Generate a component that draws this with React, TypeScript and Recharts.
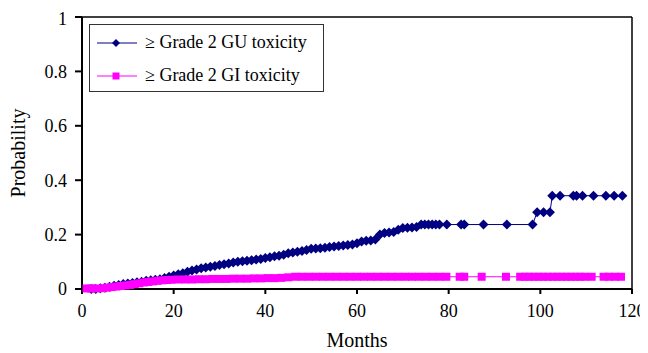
import React from 'react';
import { LineChart, Line, XAxis, YAxis, Legend, ReferenceLine } from 'recharts';

const guMonths = [2,3,4,5,6,7,8,9,10,11,12,13,14,15,16,17,18,19,20,21,22,23,24,25,26,27,28,29,30,31,32,33,34,35,36,37,38,39,40,41,42,43,44,45,46,47,48,49,50,51,52,53,54,55,56,57,58,59,60,61,62,63,64,65,66,67,68,69,70,71,72,73,74,74.8,75.6,76.4,77.2,78,79.6,82.7,83.4,87.6,92.7,98.3,99.3,100.7,102.1,102.6,104.3,107.2,107.9,109.2,111.6,114.3,116.1,117.9];
const guProb = [0,0,0.003,0.005,0.008,0.012,0.015,0.018,0.02,0.022,0.025,0.027,0.03,0.032,0.034,0.036,0.04,0.045,0.05,0.054,0.058,0.063,0.068,0.072,0.076,0.079,0.082,0.085,0.088,0.091,0.094,0.097,0.1,0.102,0.104,0.106,0.108,0.11,0.114,0.117,0.12,0.122,0.126,0.131,0.134,0.137,0.14,0.143,0.148,0.149,0.15,0.152,0.154,0.156,0.158,0.16,0.162,0.164,0.168,0.175,0.177,0.178,0.182,0.2,0.206,0.208,0.21,0.218,0.224,0.225,0.226,0.228,0.237,0.237,0.237,0.237,0.237,0.237,0.237,0.237,0.237,0.237,0.237,0.237,0.282,0.282,0.282,0.343,0.343,0.343,0.343,0.343,0.343,0.343,0.343,0.343];

const giMonths = [1,2,3,4.6,5.5,6.5,7.5,8.5,9.5,10.5,11.5,12.5,13.5,14.5,15.5,16.5,17.5,18.5,19.5,21,22.5,24,25.5,27,28.5,30,31.5,33,34.5,36,37.5,39,40.5,42,43.5,45,46.5,48,49.5,51,52.5,54,55.5,57,58.5,60,61.5,63,64.5,66,67.5,69,70.5,72,73.5,75,76.5,78,79.5,82.4,83.4,87.2,92.5,95.6,96.6,97.6,98.6,99.6,100.6,101.6,102.7,103.7,104.7,105.7,106.7,107.7,108.7,109.7,111.2,113.8,115,116.3,117.6];
const giProb = [0.002,0.002,0.002,0.003,0.005,0.007,0.009,0.011,0.013,0.015,0.018,0.021,0.024,0.026,0.028,0.03,0.032,0.033,0.034,0.035,0.035,0.035,0.036,0.036,0.037,0.037,0.037,0.038,0.038,0.038,0.039,0.039,0.04,0.04,0.041,0.043,0.045,0.045,0.045,0.045,0.045,0.045,0.045,0.045,0.045,0.045,0.045,0.045,0.045,0.045,0.045,0.045,0.045,0.045,0.045,0.045,0.045,0.045,0.045,0.045,0.045,0.045,0.045,0.045,0.045,0.045,0.045,0.045,0.045,0.045,0.045,0.045,0.045,0.045,0.045,0.045,0.045,0.045,0.045,0.045,0.045,0.045,0.045];

const xTicks = [0, 20, 40, 60, 80, 100, 120];
const yTicks = [0, 0.2, 0.4, 0.6, 0.8, 1];
const seriesNames = ['\u2265 Grade 2 GU toxicity', '\u2265 Grade 2 GI toxicity'];

const guData = guMonths.map((m, i) => ({ month: m, p: guProb[i] }));
const giData = giMonths.map((m, i) => ({ month: m, p: giProb[i] }));

const NAVY = '#000080';
const MAGENTA = '#FF00FF';
const FONT = 'Liberation Serif';

const css = `
html, body { overflow: hidden; }
#root, #root div, #root span, #root svg text, #root svg tspan {
  font-family: "Liberation Serif", "Times New Roman" !important;
}
.recharts-surface { overflow: visible; }
`;

const Diamond = (props: any) => {
  const { cx, cy, index } = props;
  if (cx == null || cy == null) return null;
  const r = 5;
  return <path key={`gu-${index}`} d={`M${cx},${cy - r}L${cx + r},${cy}L${cx},${cy + r}L${cx - r},${cy}Z`} fill={NAVY} stroke="none" />;
};

const Square = (props: any) => {
  const { cx, cy, index } = props;
  if (cx == null || cy == null) return null;
  const s = 4;
  return <rect key={`gi-${index}`} x={cx - s} y={cy - s} width={2 * s} height={2 * s} fill={MAGENTA} stroke="none" />;
};

const LegendBox = () => (
  <div style={{ border: '1px solid #333', background: '#fff', width: 235, height: 68, boxSizing: 'border-box', fontFamily: '"Liberation Serif"', fontSize: 18, color: '#000' }}>
    {seriesNames.map((name, i) => (
      <div key={name} style={{ display: 'flex', alignItems: 'center', height: 33, paddingLeft: 6, paddingTop: i === 0 ? 1 : 0 }}>
        <svg width={42} height={14} style={{ marginRight: 7 }}>
          <line x1={1} y1={7} x2={41} y2={7} stroke={i === 0 ? NAVY : MAGENTA} strokeWidth={1} />
          {i === 0 ? (
            <path d="M20,3L24,7L20,11L16,7Z" fill={NAVY} />
          ) : (
            <rect x={16.5} y={3.5} width={7} height={7} fill={MAGENTA} />
          )}
        </svg>
        <span style={{ whiteSpace: 'nowrap' }}>{name}</span>
      </div>
    ))}
  </div>
);

export default function App() {
  return (
    <div style={{ width: 640, height: 345, background: '#fff', fontFamily: '"Liberation Serif"' }}>
      <style>{css}</style>
      <LineChart width={640} height={345} margin={{ top: 9, right: 16, bottom: 8, left: 0 }}>
        <XAxis
          type="number"
          dataKey="month"
          domain={[0, 120]}
          ticks={xTicks}
          allowDataOverflow
          tickSize={5}
          tickMargin={10}
          height={56}
          stroke="#000"
          strokeWidth={2}
          tick={{ fill: '#000', fontSize: 18, fontFamily: FONT }}
          label={{
            content: (props: any) => {
              const vb = props.viewBox;
              return (
                <text x={vb.x + vb.width / 2} y={vb.y + 58} textAnchor="middle" fontSize={20} fontFamily={FONT} fill="#000">Months</text>
              );
            },
          }}
        />
        <YAxis
          type="number"
          dataKey="p"
          domain={[0, 1]}
          ticks={yTicks}
          width={74}
          tickSize={7}
          tickMargin={8}
          stroke="#000"
          strokeWidth={2}
          tick={{ fill: '#000', fontSize: 18, fontFamily: FONT }}
          label={{
            content: (props: any) => {
              const vb = props.viewBox;
              const cx = vb.x + 17;
              const cy = vb.y + vb.height / 2;
              return (
                <text x={cx} y={cy} transform={`rotate(-90, ${cx}, ${cy})`} textAnchor="middle" fontSize={20} fontFamily={FONT} fill="#000">Probability</text>
              );
            },
          }}
        />
        <ReferenceLine y={1} stroke="#000" strokeWidth={1.5} ifOverflow="visible" />
        <ReferenceLine x={120} stroke="#000" strokeWidth={1.5} ifOverflow="visible" />
        <Line data={guData} dataKey="p" name={seriesNames[0]} type="linear" stroke={NAVY} strokeWidth={1} dot={Diamond} activeDot={false} isAnimationActive={false} />
        <Line data={giData} dataKey="p" name={seriesNames[1]} type="linear" stroke={MAGENTA} strokeWidth={1} dot={Square} activeDot={false} isAnimationActive={false} />
        <Legend
          layout="horizontal"
          verticalAlign="middle"
          align="center"
          content={<LegendBox />}
          wrapperStyle={{ position: 'absolute', top: 16, left: 81, width: 235, height: 68 }}
        />
      </LineChart>
    </div>
  );
}
